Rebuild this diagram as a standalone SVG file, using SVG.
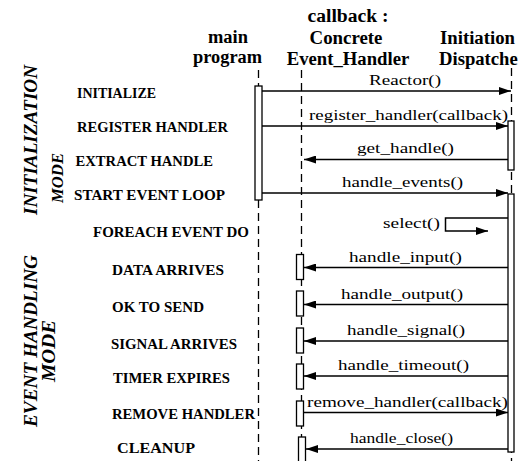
<svg xmlns="http://www.w3.org/2000/svg" width="518" height="461" viewBox="0 0 518 461">
<style>
text{font-family:"Liberation Serif","Tinos","Times New Roman","DejaVu Serif","Noto Serif",serif;fill:#000}
.h{font-weight:bold;font-size:18.7px;text-anchor:middle}
.hs{font-weight:bold;font-size:18.7px;text-anchor:start}
.m{font-size:15px}
.l{font-weight:bold;font-size:14px}
.v{font-weight:bold;font-style:italic;font-size:19px;text-anchor:middle}
.v2{font-weight:bold;font-style:italic;font-size:17px;text-anchor:middle}
.life{stroke:#000;stroke-width:1.3;stroke-dasharray:8 5;fill:none}
.act{fill:#fff;stroke:#000;stroke-width:1.3}
.msg{stroke:#000;stroke-width:1.5;fill:none;marker-end:url(#ah)}
</style>
<defs>
<marker id="ah" markerUnits="userSpaceOnUse" markerWidth="12" markerHeight="8" refX="12" refY="4" orient="auto">
<path d="M0,0 L12,4 L0,8 Z" fill="#000"/>
</marker>
</defs>
<rect width="518" height="461" fill="#fff"/>

<g id="mode-labels">
<text class="v" transform="translate(36.5,140) rotate(-90)" textLength="150" lengthAdjust="spacingAndGlyphs">INITIALIZATION</text>
<text class="v2" transform="translate(63,178) rotate(-90)" textLength="50" lengthAdjust="spacingAndGlyphs">MODE</text>
<text class="v" transform="translate(36.5,341) rotate(-90)" textLength="172" lengthAdjust="spacingAndGlyphs">EVENT  HANDLING</text>
<text class="v" transform="translate(55,351) rotate(-90)" textLength="62" lengthAdjust="spacingAndGlyphs">MODE</text>
</g>

<g id="step-labels">
<text class="l" x="77" y="98" textLength="79" lengthAdjust="spacingAndGlyphs">INITIALIZE</text>
<text class="l" x="77" y="132" textLength="151" lengthAdjust="spacingAndGlyphs">REGISTER  HANDLER</text>
<text class="l" x="75.5" y="166" textLength="137.5" lengthAdjust="spacingAndGlyphs">EXTRACT  HANDLE</text>
<text class="l" x="74" y="199.5" textLength="151" lengthAdjust="spacingAndGlyphs">START  EVENT  LOOP</text>
<text class="l" x="93" y="237" textLength="156" lengthAdjust="spacingAndGlyphs">FOREACH  EVENT  DO</text>
<text class="l" x="112" y="275" textLength="112" lengthAdjust="spacingAndGlyphs">DATA  ARRIVES</text>
<text class="l" x="112" y="311.5" textLength="92" lengthAdjust="spacingAndGlyphs">OK TO  SEND</text>
<text class="l" x="111" y="348.5" textLength="126" lengthAdjust="spacingAndGlyphs">SIGNAL  ARRIVES</text>
<text class="l" x="113" y="383" textLength="117" lengthAdjust="spacingAndGlyphs">TIMER  EXPIRES</text>
<text class="l" x="112" y="418.5" textLength="143" lengthAdjust="spacingAndGlyphs">REMOVE  HANDLER</text>
<text class="l" x="117" y="453" textLength="78" lengthAdjust="spacingAndGlyphs">CLEANUP</text>
</g>

<g id="main-program">
<text class="h" x="228" y="43" textLength="40" lengthAdjust="spacingAndGlyphs">main</text>
<text class="h" x="227.5" y="63" textLength="69" lengthAdjust="spacingAndGlyphs">program</text>
<line class="life" x1="258.5" y1="70" x2="258.5" y2="461"/>
<rect class="act" x="255" y="86" width="7" height="114"/>
</g>

<g id="callback-handler">
<text class="h" x="348" y="22" textLength="81" lengthAdjust="spacingAndGlyphs">callback :</text>
<text class="h" x="346" y="43.5" textLength="73" lengthAdjust="spacingAndGlyphs">Concrete</text>
<text class="h" x="348" y="65" textLength="122.5" lengthAdjust="spacingAndGlyphs">Event_Handler</text>
<line class="life" x1="301.5" y1="70" x2="301.5" y2="461"/>
<rect class="act" x="296.5" y="254.5" width="7" height="25"/>
<rect class="act" x="296.5" y="291" width="7" height="25"/>
<rect class="act" x="296.5" y="328" width="7" height="25"/>
<rect class="act" x="296.5" y="364" width="7" height="25"/>
<rect class="act" x="296.5" y="401" width="7" height="25"/>
<rect class="act" x="298.5" y="437" width="7" height="30"/>
</g>

<g id="initiation-dispatcher">
<text class="hs" x="440" y="43.5" textLength="75" lengthAdjust="spacingAndGlyphs">Initiation</text>
<text class="hs" x="439" y="65" textLength="87" lengthAdjust="spacingAndGlyphs">Dispatcher</text>
<line class="life" x1="511.5" y1="68" x2="511.5" y2="461"/>
<rect class="act" x="508" y="121" width="6" height="49"/>
<rect class="act" x="508" y="194" width="6" height="258"/>
</g>

<g id="connectors">
<line class="msg" x1="262" y1="91" x2="511" y2="91"/>
<text class="m" x="369" y="85" textLength="72" lengthAdjust="spacingAndGlyphs">Reactor()</text>
<line class="msg" x1="262" y1="126" x2="508" y2="126"/>
<text class="m" x="309" y="119.5" textLength="199" lengthAdjust="spacingAndGlyphs">register_handler(callback)</text>
<line class="msg" x1="508" y1="159.5" x2="304" y2="159.5"/>
<text class="m" x="357" y="152.5" textLength="97" lengthAdjust="spacingAndGlyphs">get_handle()</text>
<line class="msg" x1="262" y1="193" x2="508" y2="193"/>
<text class="m" x="342" y="186.5" textLength="121" lengthAdjust="spacingAndGlyphs">handle_events()</text>
<path class="msg" d="M508,218 H445.5 V231 H488"/>
<text class="m" x="383" y="228" textLength="57" lengthAdjust="spacingAndGlyphs">select()</text>
<line class="msg" x1="508" y1="267.5" x2="304" y2="267.5"/>
<text class="m" x="349" y="262" textLength="113" lengthAdjust="spacingAndGlyphs">handle_input()</text>
<line class="msg" x1="508" y1="304.5" x2="304" y2="304.5"/>
<text class="m" x="341" y="298.5" textLength="122" lengthAdjust="spacingAndGlyphs">handle_output()</text>
<line class="msg" x1="508" y1="341" x2="304" y2="341"/>
<text class="m" x="347" y="335" textLength="118" lengthAdjust="spacingAndGlyphs">handle_signal()</text>
<line class="msg" x1="508" y1="376" x2="304" y2="376"/>
<text class="m" x="338" y="370" textLength="131" lengthAdjust="spacingAndGlyphs">handle_timeout()</text>
<line class="msg" x1="303.5" y1="412.5" x2="508" y2="412.5"/>
<text class="m" x="307" y="407" textLength="201" lengthAdjust="spacingAndGlyphs">remove_handler(callback)</text>
<line class="msg" x1="508" y1="449" x2="306" y2="449"/>
<text class="m" x="350" y="443" textLength="103" lengthAdjust="spacingAndGlyphs">handle_close()</text>
</g>
</svg>
